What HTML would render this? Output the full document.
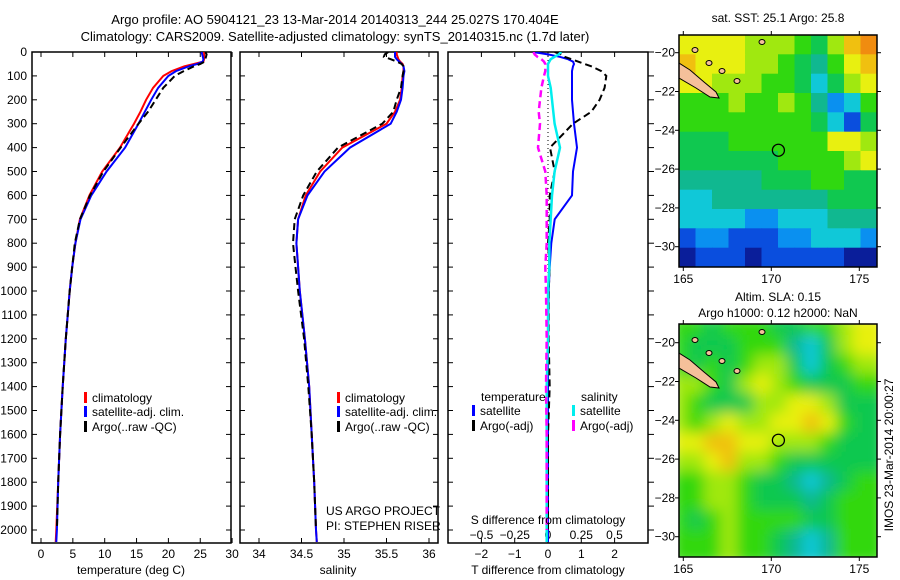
<!DOCTYPE html>
<html><head><meta charset="utf-8">
<style>
body{margin:0;background:#fff;}
svg{display:block;font-family:"Liberation Sans",sans-serif;}
text{font-size:12px;fill:#000;}
</style></head>
<body>
<svg id="fig" width="900" height="580" viewBox="0 0 900 580" xmlns="http://www.w3.org/2000/svg">
<defs>
<clipPath id="c1"><rect x="32" y="52" width="199" height="491"/></clipPath>
<clipPath id="c2"><rect x="240" y="52" width="198" height="491"/></clipPath>
<clipPath id="c3"><rect x="448" y="52" width="200" height="491"/></clipPath>
<clipPath id="cm1"><rect x="679" y="35" width="198" height="232"/></clipPath>
<clipPath id="cm2"><rect x="679" y="324" width="198" height="233"/></clipPath>
<filter id="blur" x="-5%" y="-5%" width="110%" height="110%"><feGaussianBlur stdDeviation="7"/></filter>
</defs>
<text x="335" y="24" text-anchor="middle" style="font-size:13px">Argo profile: AO 5904121_23 13-Mar-2014 20140313_244 25.027S 170.404E</text>
<text x="335" y="41" text-anchor="middle" style="font-size:13px">Climatology: CARS2009. Satellite-adjusted climatology: synTS_20140315.nc (1.7d later)</text>
<g id="g1"></g>
<g id="g2"></g>
<g id="g3"></g>
<g id="m1"></g>
<g id="m2"></g>
<text x="326" y="515">US ARGO PROJECT</text>
<text x="326" y="530">PI: STEPHEN RISER</text>
<text x="131" y="574" text-anchor="middle">temperature (deg C)</text>
<text x="338" y="574" text-anchor="middle">salinity</text>
<text x="548" y="574" text-anchor="middle">T difference from climatology</text>
<text x="548" y="524" text-anchor="middle">S difference from climatology</text>
<text x="778" y="22" text-anchor="middle">sat. SST: 25.1 Argo: 25.8</text>
<text x="778" y="301" text-anchor="middle">Altim. SLA: 0.15</text>
<text x="778" y="317" text-anchor="middle">Argo h1000: 0.12 h2000: NaN</text>
<text transform="translate(893,455) rotate(-90)" text-anchor="middle">IMOS 23-Mar-2014 20:00:27</text>
</svg>
<script>
const NS="http://www.w3.org/2000/svg";
// ---- profile data ----
const depths=[0,10,20,30,40,50,60,80,100,150,200,250,300,400,500,600,700,800,900,1000,1200,1400,1600,1800,2000,2050];
const tempClim=[25.6,25.6,25.6,25.6,25.5,24.0,22.5,20.5,19.2,17.6,16.5,15.6,14.6,12.4,9.6,7.6,6.1,5.4,4.9,4.5,3.9,3.4,3.0,2.7,2.4,2.3];
const tempSat=[25.2,25.3,25.4,25.5,25.4,24.5,23.2,21.2,20.0,18.4,17.3,16.3,15.3,13.2,10.3,7.9,6.2,5.4,4.9,4.5,3.9,3.4,3.0,2.7,2.5,2.4];
const tempArgo=[25.8,26.0,25.9,25.8,25.7,25.0,24.0,22.4,21.0,19.2,18.0,16.8,15.3,12.5,9.8,7.7,6.1,5.3,4.9,4.5,3.9,3.4,3.0,2.7,2.5,null];
const salClim=[35.62,35.62,35.63,35.64,35.66,35.69,35.7,35.7,35.69,35.68,35.66,35.6,35.5,34.98,34.72,34.55,34.46,34.44,34.46,34.48,34.54,34.59,34.62,34.65,34.67,34.68];
const salSat=[35.6,35.6,35.6,35.62,35.65,35.68,35.7,35.71,35.7,35.69,35.67,35.62,35.55,35.07,34.77,34.57,34.46,34.44,34.46,34.48,34.54,34.59,34.62,34.65,34.67,34.68];
const salArgo=[35.52,35.48,35.47,35.55,35.62,35.68,35.7,35.7,35.69,35.67,35.62,35.58,35.45,34.93,34.68,34.52,34.42,34.40,34.43,34.46,34.53,34.58,34.62,34.65,34.67,null];
const dTsat=[-0.45,0.0,0.35,0.6,0.75,0.78,0.75,0.72,0.72,0.72,0.72,0.75,0.78,0.87,0.75,0.72,0.2,0.1,0.05,0.02,0,0,0,0,0,0];
const dTargo=[0.2,0.4,0.5,0.7,0.9,1.1,1.3,1.6,1.75,1.7,1.55,1.3,0.75,0.06,0.2,0.05,0.05,0.0,0.05,0.02,0.02,0.05,0.0,0.0,0.0,null];
const dSsat=[0.1,0.08,0.05,0.02,0.01,0.0,0.0,0.0,0.0,0.02,0.03,0.04,0.05,0.09,0.05,0.03,0.02,0.01,0.01,0.0,0.0,-0.01,-0.01,-0.01,-0.01,-0.01];
const dSargo=[-0.11,-0.1,-0.08,-0.05,-0.03,-0.02,-0.02,-0.02,-0.03,-0.05,-0.06,-0.07,-0.06,-0.075,-0.02,-0.01,-0.01,-0.01,-0.02,-0.015,-0.01,-0.015,-0.01,-0.01,-0.01,null];
const depthTicks=[0,100,200,300,400,500,600,700,800,900,1000,1100,1200,1300,1400,1500,1600,1700,1800,1900,2000];
const tTicks=[0,5,10,15,20,25,30];
const sTicks=[34,34.5,35,35.5,36];
const dTTicks=[-2,-1,0,1,2];
const dSTicks=[-0.5,-0.25,0,0.25,0.5];
const dSTickLabels=["\u22120.5","\u22120.25","0","0.25","0.5"];
// ---- map data (colour class grids, 12x12) ----
const sstGrid=[
[8,8,8,8,7,7,7,6,5,7,9,10],[9,8,8,8,7,7,6,5,4,6,8,9],[8,8,7,7,7,6,6,5,3,5,7,8],
[6,6,6,7,6,6,7,6,4,2,3,6],[6,6,6,6,6,6,6,6,5,3,1,5],[5,5,5,6,6,6,6,6,6,8,8,7],
[5,5,5,5,5,5,6,6,6,6,7,8],[4,4,4,4,4,5,5,5,6,6,5,5],[3,3,4,4,4,4,4,4,4,5,5,5],
[3,3,3,3,2,2,3,3,3,4,4,4],[1,2,2,1,1,1,2,2,3,3,3,2],[0,1,1,1,0,1,1,1,1,1,0,0]];
const slaGrid=[
[6,6,5,6,6,6,5,5,6,6,7,8],[6,5,5,5,6,6,6,4,3,5,7,8],[6,5,6,5,6,7,7,5,3,5,6,7],
[7,7,6,5,7,8,7,6,5,5,5,6],[7,6,5,5,5,7,7,8,8,7,5,5],[7,6,7,8,7,7,8,8,9,8,6,5],
[8,8,9,9,8,8,7,7,7,6,5,5],[7,7,8,9,7,7,6,5,5,5,5,5],[6,6,7,7,6,5,5,4,3,4,5,6],
[6,6,7,7,6,5,5,5,4,5,6,6],[6,5,6,7,6,6,6,6,5,5,6,6],[6,6,6,7,6,6,5,4,3,4,6,6]];
const palette=["#0a1e9a","#0a4ede","#0a90f0","#10c8d8","#10b890","#10c850","#30d810","#a0e810","#e8f010","#f0c010","#f08c10"];
const lonTicks=[165,170,175];
const latTicks=[-20,-22,-24,-26,-28,-30];
const argoLon=170.404, argoLat=-25.027;

function el(tag,attrs,parent,txt){const e=document.createElementNS(NS,tag);for(const k in attrs)e.setAttribute(k,attrs[k]);if(txt!==undefined)e.textContent=txt;parent.appendChild(e);return e;}
const yD=d=>52+d*0.239;

function panel(g,x0,x1,xs,ticks,labels,clip,leftLabels,rightOut){
  el('rect',{x:x0,y:52,width:x1-x0,height:491,fill:'none',stroke:'#000','stroke-width':1.5},g);
  ticks.forEach((t,i)=>{const x=xs(t);
    el('line',{x1:x,x2:x,y1:543,y2:538,stroke:'#000'},g);
    el('line',{x1:x,x2:x,y1:52,y2:57,stroke:'#000'},g);
    const tx=el('text',{x:x,y:558,'text-anchor':'middle'},g,labels?labels[i]:String(t));
    
    
  });
  depthTicks.forEach(d=>{const y=yD(d);
    el('line',{x1:x0,x2:x0+5,y1:y,y2:y,stroke:'#000'},g);
    if(rightOut) el('line',{x1:x1,x2:x1+6,y1:y,y2:y,stroke:'#000'},g);
    else el('line',{x1:x1,x2:x1-5,y1:y,y2:y,stroke:'#000'},g);
    if(leftLabels){const tx=el('text',{x:27,y:y+4,'text-anchor':'end'},g,String(d));
      
      }
  });
}
function series(g,xs,vals,color,dash,w,name,clip){
  let d='',pen=false;
  vals.forEach((v,i)=>{if(v===null){pen=false;return;}d+=(pen?'L':'M')+xs(v).toFixed(1)+','+yD(depths[i]).toFixed(1);pen=true;});
  const p=el('path',{d:d,fill:'none',stroke:color,'stroke-width':w,'clip-path':'url(#'+clip+')'},g);
  if(dash)p.setAttribute('stroke-dasharray',dash);
  
  
}
function legendEntry(g,x,y,color,label){
  el('rect',{x:x,y:y-10,width:3,height:11,fill:color},g);
  const t=el('text',{x:x+8,y:y},g,label);
  
  
}
// Panel 1
const g1=document.getElementById('g1');
const xT=v=>41+v*6.37;
panel(g1,32,231,xT,tTicks,null,'c1',true,false);
series(g1,xT,tempClim,'#f00','',2,'temp-climatology-line','c1');
series(g1,xT,tempSat,'#00f','',2,'temp-satellite-line','c1');
series(g1,xT,tempArgo,'#000','7,4',2,'temp-argo-line','c1');
legendEntry(g1,84,402,'#f00','climatology');
legendEntry(g1,84,416,'#00f','satellite-adj. clim.');
legendEntry(g1,84,431,'#000','Argo(..raw -QC)');
// Panel 2
const g2=document.getElementById('g2');
const xS=v=>259+(v-34)*85;
panel(g2,240,438,xS,sTicks,null,'c2',false,false);
series(g2,xS,salClim,'#f00','',2,'sal-climatology-line','c2');
series(g2,xS,salSat,'#00f','',2,'sal-satellite-line','c2');
series(g2,xS,salArgo,'#000','7,4',2,'sal-argo-line','c2');
legendEntry(g2,337,402,'#f00','climatology');
legendEntry(g2,337,416,'#00f','satellite-adj. clim.');
legendEntry(g2,337,431,'#000','Argo(..raw -QC)');
// Panel 3
const g3=document.getElementById('g3');
const xdT=v=>548+v*33.3, xdS=v=>548+v*133;
panel(g3,448,648,xdT,dTTicks,["\u22122","\u22121","0","1","2"],'c3',false,true);
dSTicks.forEach((t,i)=>{const x=xdS(t);
  const tx=el('text',{x:x,y:539,'text-anchor':'middle'},g3,dSTickLabels[i]);
  
  
});
el('line',{x1:548,x2:548,y1:52,y2:543,stroke:'#000','stroke-dasharray':'1,3'},g3);
series(g3,xdT,dTsat,'#00f','',2,'tdiff-satellite-line','c3');
series(g3,xdT,dTargo,'#000','7,4',2,'tdiff-argo-line','c3');
series(g3,xdS,dSsat,'#0ee','',2.5,'sdiff-satellite-line','c3');
series(g3,xdS,dSargo,'#f0f','7,4',2.5,'sdiff-argo-line','c3');
const lt=el('text',{x:481,y:401},g3,'temperature');
const ls=el('text',{x:581,y:401},g3,'salinity');
legendEntry(g3,472,415,'#00f','satellite');
legendEntry(g3,472,430,'#000','Argo(-adj)');
legendEntry(g3,572,415,'#0ee','satellite');
legendEntry(g3,572,430,'#f0f','Argo(-adj)');
// Maps
function map(g,y0,y1,grid,clip,blur,lat20,lat30){
  const x0=679,x1=877,W=x1-x0,H=y1-y0;
  const lonX=l=>683.3+(l-165)*17.6;
  const latY=la=>lat20+(-20-la)*(lat30-lat20)/10;
  const cg=el('g',{'clip-path':'url(#'+clip+')'},g);
  const inner=el('g',blur?{filter:'url(#blur)'}:{},cg);
  const cw=W/12,ch=H/12;
  grid.forEach((row,r)=>row.forEach((v,c)=>{
    const cell=el('rect',{x:(x0+c*cw-(blur?8:0)).toFixed(1),y:(y0+r*ch-(blur?8:0)).toFixed(1),width:(cw+(blur?16:0.6)).toFixed(1),height:(ch+(blur?16:0.6)).toFixed(1),fill:palette[v]},inner);
    
    
  }));
  if(blur){grid.forEach((row,r)=>row.forEach((v,c)=>{}));}
  const off=latY(-20)-52.7;
  const land=el('polygon',{points:`679,${63+off} 690,${70+off} 704,${82+off} 716,${92+off} 719,${98+off} 710,${97+off} 696,${88+off} 679,${78+off}`,fill:'#f5c09a',stroke:'#000','stroke-width':1},cg);
  
  
  [[695,50],[709,63],[722,71],[737,81],[762,42]].forEach(p=>el('ellipse',{cx:p[0],cy:p[1]+off,rx:3,ry:2.5,fill:'#f5c09a',stroke:'#000'},cg));
  el('rect',{x:x0,y:y0,width:W,height:H,fill:'none',stroke:'#000','stroke-width':1.5},g);
  const mk=el('circle',{cx:lonX(argoLon),cy:latY(argoLat),r:6,fill:'none',stroke:'#000','stroke-width':1.3},g);
  
  
  lonTicks.forEach(l=>{const x=lonX(l);
    el('line',{x1:x,x2:x,y1:y1,y2:y1+4,stroke:'#000'},g);
    el('line',{x1:x,x2:x,y1:y0,y2:y0-4,stroke:'#000'},g);
    const t=el('text',{x:x,y:y1+16,'text-anchor':'middle'},g,String(l));
    
    
  });
  latTicks.forEach(la=>{const y=latY(la);
    el('line',{x1:x0,x2:x0-4,y1:y,y2:y,stroke:'#000'},g);
    el('line',{x1:x1,x2:x1+4,y1:y,y2:y,stroke:'#000'},g);
    const t=el('text',{x:675,y:y+4,'text-anchor':'end'},g,'\u2212'+String(-la));
    
    
  });
}
map(document.getElementById('m1'),35,267,sstGrid,'cm1',false,52.7,246.7);
map(document.getElementById('m2'),324,557,slaGrid,'cm2',true,342.7,536.7);
</script>
</body></html>
